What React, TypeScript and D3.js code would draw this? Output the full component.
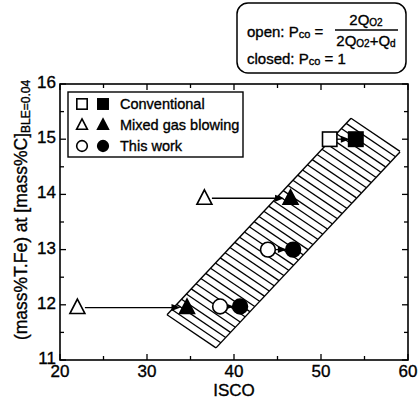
import React from "react";
import * as d3 from "d3";

const xDomain = [20, 60];
const yDomain = [11, 16];
const xMajorTicks = [20, 30, 40, 50, 60];
const xMinorTicks = [25, 35, 45, 55];
const yMajorTicks = [11, 12, 13, 14, 15, 16];
const yMinorTicks = [11.5, 12.5, 13.5, 14.5, 15.5];

const conventionalOpen = [{ x: 51, y: 15 }];
const conventionalClosed = [{ x: 54, y: 15 }];
const mixedOpen = [{ x: 22, y: 11.95 }, { x: 36.6, y: 13.93 }];
const mixedClosed = [{ x: 34.6, y: 11.95 }, { x: 46.5, y: 13.93 }];
const thisWorkOpen = [{ x: 38.4, y: 11.97 }, { x: 43.9, y: 13.0 }];
const thisWorkClosed = [{ x: 40.7, y: 11.97 }, { x: 46.8, y: 13.0 }];
// parallelogram corners: left, bottom, right, top
const bandCorners = [
  [32.3, 11.82],
  [37.93, 11.22],
  [59.08, 14.77],
  [53.45, 15.38],
];
const hatchCount = 38;

const legendItems = ["Conventional", "Mixed gas blowing", "This work"];
const legendShapes = ["square", "triangle", "circle"];

const FONT = "'Liberation Sans', Arial, Helvetica, sans-serif";
const TS = { stroke: "#000", strokeWidth: 0.35 };

function Marker({ shape, cx, cy, filled, s = 1 }: any) {
  const fill = filled ? "#000" : "#fff";
  const sw = 1.6;
  if (shape === "square") {
    const h = 7.2 * s;
    return <rect x={cx - h} y={cy - h} width={2 * h} height={2 * h} fill={fill} stroke="#000" strokeWidth={sw} />;
  }
  if (shape === "triangle") {
    const pts = [
      [cx, cy - 8.5 * s],
      [cx + 7.5 * s, cy + 6 * s],
      [cx - 7.5 * s, cy + 6 * s],
    ];
    return <polygon points={pts.map((p) => p.join(",")).join(" ")} fill={fill} stroke="#000" strokeWidth={sw} strokeLinejoin="miter" />;
  }
  return <circle cx={cx} cy={cy} r={7.4 * s} fill={fill} stroke="#000" strokeWidth={sw} />;
}

export default function App() {
  const x = d3.scaleLinear().domain(xDomain).range([60, 408]);
  const y = d3.scaleLinear().domain(yDomain).range([360, 84]);
  const [x0, x1] = x.range();
  const [y0, y1] = y.range();

  const bc = bandCorners.map(([a, b]) => [x(a), y(b)]);
  const [A, B, C, D] = bc;
  const hatch = d3.range(hatchCount + 1).map((i) => {
    const t = i / hatchCount;
    const dx = (D[0] - A[0]) * t;
    const dy = (D[1] - A[1]) * t;
    return [A[0] + dx, A[1] + dy, B[0] + dx, B[1] + dy];
  });

  const groups = [
    { shape: "square", open: conventionalOpen, closed: conventionalClosed, hw: 7 },
    { shape: "triangle", open: mixedOpen, closed: mixedClosed, hw: 7.5 },
    { shape: "circle", open: thisWorkOpen, closed: thisWorkClosed, hw: 7.3 },
  ];

  const arrows: any[] = [];
  groups.forEach((g) => {
    g.open.forEach((o, i) => {
      const c = g.closed[i];
      arrows.push({ x1: x(o.x) + g.hw, y: y(o.y), x2: x(c.x) - g.hw + 1 });
    });
  });

  return (
    <svg width={420} height={400} style={{ display: "block", position: "absolute", left: 0, top: 0 }} fontFamily={FONT}>
      <rect width={420} height={400} fill="#fff" />
      {/* band */}
      <g>
        {hatch.map((h, i) => (
          <line key={i} x1={h[0]} y1={h[1]} x2={h[2]} y2={h[3]} stroke="#000" strokeWidth={1.3} />
        ))}
        <line x1={A[0]} y1={A[1]} x2={D[0]} y2={D[1]} stroke="#000" strokeWidth={1.4} />
        <line x1={B[0]} y1={B[1]} x2={C[0]} y2={C[1]} stroke="#000" strokeWidth={1.4} />
      </g>
      {/* arrows */}
      {arrows.map((a, i) => (
        <g key={i}>
          <line x1={a.x1} y1={a.y} x2={a.x2 - 6} y2={a.y} stroke="#000" strokeWidth={1.3} />
          <polygon points={`${a.x2},${a.y} ${a.x2 - 9},${a.y - 3.5} ${a.x2 - 9},${a.y + 3.5}`} fill="#000" />
        </g>
      ))}
      {/* markers */}
      {groups.map((g) => (
        <g key={g.shape}>
          {g.open.map((p, i) => (
            <Marker key={"o" + i} shape={g.shape} cx={x(p.x)} cy={y(p.y)} filled={false} />
          ))}
          {g.closed.map((p, i) => (
            <Marker key={"c" + i} shape={g.shape} cx={x(p.x)} cy={y(p.y)} filled={true} />
          ))}
        </g>
      ))}
      {/* frame */}
      <rect x={x0} y={y1} width={x1 - x0} height={y0 - y1} fill="none" stroke="#000" strokeWidth={1.6} />
      {/* ticks */}
      {xMajorTicks.map((t) => (
        <g key={"xm" + t}>
          <line x1={x(t)} x2={x(t)} y1={y0} y2={y0 - 6} stroke="#000" strokeWidth={1.3} />
          <line x1={x(t)} x2={x(t)} y1={y1} y2={y1 + 6} stroke="#000" strokeWidth={1.3} />
          <text x={x(t)} y={377} textAnchor="middle" fontSize={17} {...TS}>{t}</text>
        </g>
      ))}
      {xMinorTicks.map((t) => (
        <g key={"xn" + t}>
          <line x1={x(t)} x2={x(t)} y1={y0} y2={y0 - 4} stroke="#000" strokeWidth={1.3} />
          <line x1={x(t)} x2={x(t)} y1={y1} y2={y1 + 4} stroke="#000" strokeWidth={1.3} />
        </g>
      ))}
      {yMajorTicks.map((t) => (
        <g key={"ym" + t}>
          <line x1={x0} x2={x0 + 6} y1={y(t)} y2={y(t)} stroke="#000" strokeWidth={1.3} />
          <line x1={x1} x2={x1 - 6} y1={y(t)} y2={y(t)} stroke="#000" strokeWidth={1.3} />
          <text x={56} y={y(t) - 2} dy="0.35em" textAnchor="end" fontSize={17} {...TS}>{t}</text>
        </g>
      ))}
      {yMinorTicks.map((t) => (
        <g key={"yn" + t}>
          <line x1={x0} x2={x0 + 4} y1={y(t)} y2={y(t)} stroke="#000" strokeWidth={1.3} />
          <line x1={x1} x2={x1 - 4} y1={y(t)} y2={y(t)} stroke="#000" strokeWidth={1.3} />
        </g>
      ))}
      {/* axis titles */}
      <text x={(x0 + x1) / 2} y={396} textAnchor="middle" fontSize={17} {...TS}>ISCO</text>
      <text transform="translate(27,210) rotate(-90)" textAnchor="middle" fontSize={17.5} {...TS}>
        (mass%T.Fe) at [mass%C]<tspan fontSize={12} dy={3}>BLE=0.04</tspan>
      </text>
      {/* legend */}
      <rect x={68} y={92} width={175} height={65} fill="#fff" stroke="#000" strokeWidth={1.4} />
      {legendItems.map((name, i) => {
        const cy = 104 + i * 21;
        return (
          <g key={name}>
            <Marker shape={legendShapes[i]} cx={82} cy={cy} filled={false} s={0.72} />
            <Marker shape={legendShapes[i]} cx={103} cy={cy} filled={true} s={0.72} />
            <text x={120} y={cy} dy="0.35em" fontSize={14.5} {...TS}>{name}</text>
          </g>
        );
      })}
      {/* formula box */}
      <rect x={237} y={3} width={169} height={70} rx={11} ry={11} fill="#fff" stroke="#000" strokeWidth={1.5} />
      <text x={247} y={37} fontSize={15} {...TS}>
        open: P<tspan fontSize={11} dy={1}>co</tspan><tspan dy={-1}> =</tspan>
      </text>
      <text x={366} y={25} textAnchor="middle" fontSize={15} {...TS}>
        2Q<tspan fontSize={10} dy={1}>O2</tspan>
      </text>
      <line x1={335} x2={398} y1={30} y2={30} stroke="#000" strokeWidth={1.4} />
      <text x={366} y={46} textAnchor="middle" fontSize={15} {...TS}>
        2Q<tspan fontSize={10} dy={1}>O2</tspan><tspan dy={-1}>+Q</tspan><tspan fontSize={10} dy={1}>d</tspan>
      </text>
      <text x={247} y={64} fontSize={15} {...TS}>
        closed: P<tspan fontSize={11} dy={1}>co</tspan><tspan dy={-1}> = 1</tspan>
      </text>
    </svg>
  );
}
